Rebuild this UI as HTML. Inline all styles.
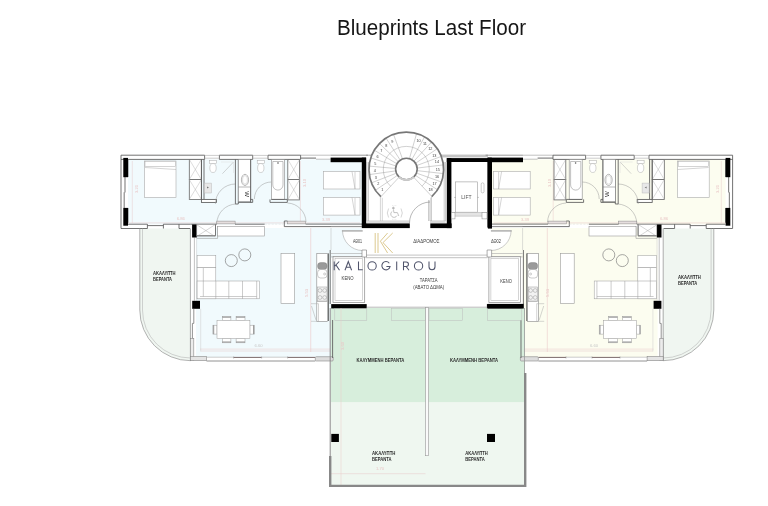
<!DOCTYPE html>
<html><head><meta charset="utf-8"><style>
html,body{margin:0;padding:0;background:#fff;width:768px;height:506px;overflow:hidden}
svg{position:absolute;left:0;top:0;display:block;filter:blur(0.3px)}
text{font-family:"Liberation Sans",sans-serif}
</style></head><body>
<svg width="768" height="506" viewBox="0 0 768 506">
<defs>
<g id="apt" fill="none" stroke="#5a5a5a" stroke-width="0.85">
  <!-- tinted areas drawn separately -->
  <!-- top outer wall -->
  <path d="M121 155.2H204.6M121 159.4H204.6M219.4 155.2H252.7M219.4 159.4H252.7M268 155.2H300.6M268 159.4H300.6"/>
  <path d="M300.6 155.2H330.6M316 159.2H330.6" stroke="#999" stroke-width="0.6"/>
  <path d="M300.6 158.1H316" stroke="#777" stroke-width="1.1"/>
  <path d="M204.6 155.2V159.4M219.4 155.2V159.4M252.7 155.2V159.4M268 155.2V159.4M300.6 155.2V159.4" />
  <path d="M204.6 155.4H219.4M252.7 155.4H268M204.6 158.2H219.4M252.7 158.2H268" stroke="#aaa" stroke-width="0.6"/>
  <!-- left outer wall -->
  <path d="M121 155.2V228.5M128 159.4V177M128 208V223"/>
  <path d="M125 177V192.6M124.2 192.2V208" stroke="#8a8a8a" stroke-width="1.2"/>
  <rect x="123.3" y="157.9" width="4.7" height="19.3" fill="#000" stroke="none"/>
  <rect x="123.3" y="207.9" width="4.7" height="17.8" fill="#000" stroke="none"/>
  <!-- bottom wall of bedroom band -->
  <path d="M121 228.5H147.4V224.2M147.4 225.6H163.4M163.4 224.2V228.5M128 224.2H147.4M163.4 224.2H190.5M179 224.2V228.5H190"/>
  <!-- dimension lines (pink) -->
  <path d="M132.3 161V223M128 222.9H360M300.4 161V224M200 349.1H330" stroke="#e8c8c8" stroke-width="0.5"/>
  <!-- bed 1 -->
  <rect x="144.4" y="161" width="31.6" height="36.4" fill="#fff" stroke="#aaa" stroke-width="0.6"/>
  <rect x="145" y="161.3" width="30.4" height="5" fill="#fff" stroke="#aaa" stroke-width="0.5"/>
  <path d="M145 167.5L176 169.5" stroke="#aaa" stroke-width="0.5"/>
  <!-- closets 1 -->
  <g stroke="#666" stroke-width="0.8">
    <rect x="189.3" y="159.4" width="12.1" height="20.2" fill="#fff"/>
    <rect x="189.3" y="179.6" width="12.1" height="19.8" fill="#fff"/>
    <path d="M189.3 159.4L201.4 179.6M201.4 159.4L189.3 179.6M189.3 179.6L201.4 199.4M201.4 179.6L189.3 199.4" stroke="#aaa" stroke-width="0.4"/>
  </g>
  <path d="M201.4 159.4V199.4M204 159.4V199.4"/>
  <rect x="201.4" y="199.4" width="15" height="3" fill="#fff"/>
  <!-- WC1 -->
  <ellipse cx="213" cy="168" rx="3.2" ry="4.5" fill="#fff" stroke="#aaa" stroke-width="0.5"/>
  <rect x="209.5" y="160.4" width="7" height="3.2" fill="#fff" stroke="#aaa" stroke-width="0.5"/>
  <rect x="204.5" y="183.1" width="7" height="9.9" fill="#e8e8e8" stroke="#bbb" stroke-width="0.5"/><path d="M207 186.5L209 187.5L207 188.5Z" fill="#777" stroke="none"/>
  <path d="M222.4 173.7L233.5 162" stroke="#aaa" stroke-width="0.5"/>
  <path d="M221 162H233.5V173" stroke="#ddd" stroke-width="0.5"/>
  <!-- door arc bath1 -->
  <path d="M235.4 184A20 20 0 0 0 215.4 204" stroke="#999" stroke-width="0.5"/>
  <!-- wall between bath1 and sink niche -->
  <path d="M235.4 159.4V204M238.3 159.4V204M235.4 204H238.3"/>
  <!-- sink niche -->
  <rect x="238.3" y="159.4" width="12.4" height="42" fill="#fff" stroke="#888" stroke-width="0.6"/>
  <ellipse cx="245" cy="179.9" rx="3.6" ry="5.6" fill="#fff" stroke="#888" stroke-width="0.6"/>
  <ellipse cx="245" cy="179.9" rx="2.4" ry="4.2" fill="none" stroke="#aaa" stroke-width="0.4"/>
  <path d="M238.3 187H250.7" stroke="#888" stroke-width="0.6"/>
  <text x="244.5" y="194.2" font-size="6" fill="#333" stroke="none" transform="rotate(90 244.5 194.2)" text-anchor="middle">W</text>
  <path d="M250.7 159.4V202.4M238.3 202.4H252.7M270 202.4H287.3M250.7 199.4H252.7V202.4M270 199.4V202.4"/>
  <!-- WC2 -->
  <ellipse cx="260.8" cy="168" rx="3.2" ry="4.5" fill="#fff" stroke="#aaa" stroke-width="0.5"/>
  <rect x="257.2" y="160.4" width="7.2" height="3.2" fill="#fff" stroke="#aaa" stroke-width="0.5"/>
  <path d="M271.4 182A17 17 0 0 0 254.4 199" stroke="#999" stroke-width="0.5"/>
  <!-- bath tub -->
  <rect x="271.4" y="159.6" width="13" height="39.8" fill="#fff" stroke="#888" stroke-width="0.6"/>
  <path d="M272.8 161.5H283V185A5 5 0 0 1 272.8 185Z" fill="#fff" stroke="#999" stroke-width="0.6"/>
  <circle cx="278" cy="163" r="0.8" fill="#555" stroke="none"/>
  <path d="M271.4 199.4H287.3V202.4"/>
  <!-- closets 2 -->
  <g stroke="#666" stroke-width="0.8">
    <rect x="287.8" y="159.4" width="11.8" height="20.2" fill="#fff"/>
    <rect x="287.8" y="179.6" width="11.8" height="20.3" fill="#fff"/>
    <path d="M287.8 159.4L299.6 179.6M299.6 159.4L287.8 179.6M287.8 179.6L299.6 199.9M299.6 179.6L287.8 199.9" stroke="#aaa" stroke-width="0.4"/>
  </g>
  <!-- door arc bedroom2 -->
  <path d="M287.5 203A19.5 19.5 0 0 1 306 222" stroke="#999" stroke-width="0.5"/>
  <rect x="287.3" y="221.1" width="18.3" height="2.8" fill="#e6dede" stroke="#888" stroke-width="0.5"/>
  <path d="M284.3 221V226.6H362M284.3 221H287.3M305.6 224.1H362"/>
  <!-- door arc bedroom1 (to corridor) -->
  <path d="M216.8 223.5A20 20 0 0 1 236 204" stroke="#999" stroke-width="0.5"/>
  <rect x="216.8" y="221.1" width="18.3" height="2.8" fill="#e6dede" stroke="#888" stroke-width="0.5"/>
  <path d="M190.5 224.2H216.8M235 224.2H264.7M196.8 226.6H214.9"/>
  <path d="M264.7 224.2H284.3" stroke="#ddd" stroke-width="0.5" stroke-dasharray="2 1.5"/>
  <!-- beds 2 -->
  <rect x="323.4" y="171.5" width="36.6" height="17.5" fill="#fff" stroke="#aaa" stroke-width="0.6"/>
  <rect x="323.4" y="197.4" width="36.6" height="17.7" fill="#fff" stroke="#aaa" stroke-width="0.6"/>
  <path d="M352 171.5L355 189M352 197.4L355 215M355 172V189M355 198V215" stroke="#aaa" stroke-width="0.5"/>
  <!-- black top-right wall -->
  <rect x="330.6" y="157.6" width="35.4" height="4.6" fill="#000" stroke="none"/>
  <rect x="361.8" y="157.6" width="4.4" height="70" fill="#000" stroke="none"/>
  <path d="M330.6 155.2H368" stroke="#888"/>
  <!-- veranda -->
  <path d="M139.8 228.5V310A50.7 50.7 0 0 0 190.5 360.7" stroke="#9a9a9a" stroke-width="0.75"/>
  <path d="M142.5 228.5V310A48 48 0 0 0 190.5 358" stroke="#aaa" stroke-width="0.5"/>
  <!-- living left wall -->
  <rect x="190.4" y="237.5" width="4" height="63" fill="#fff" stroke="none"/>
  <path d="M190.4 228.5V361" stroke="#999" stroke-width="0.8"/>
  <path d="M194.4 237.5V300.6" stroke="#999" stroke-width="0.6"/>
  <path d="M196.6 237.5V300.6M200.7 308.8V351.4" stroke="#ccc" stroke-width="0.5"/>
  <rect x="192.1" y="224.5" width="4.7" height="13" fill="#000" stroke="none"/>
  <rect x="192.2" y="300.8" width="7.8" height="8" fill="#000" stroke="none"/>
  <path d="M193.8 308.8V323.4H192.4V338.6" stroke="#777" stroke-width="0.8"/>
  <rect x="190.4" y="338.6" width="3.4" height="22.1" fill="#ececec" stroke="#888" stroke-width="0.6"/>
  <rect x="190.4" y="356.5" width="16.1" height="4.2" fill="#e4e4e4" stroke="#888" stroke-width="0.6"/>
  <!-- kitchen box X -->
  <rect x="196.8" y="224.5" width="18.7" height="11.6" fill="#fff" stroke="#888" stroke-width="0.5"/>
  <path d="M215.5 224.3V235.7H196.8" stroke="#777" stroke-width="1"/>
  <path d="M217.6 226V238.4H196.8" stroke="#999" stroke-width="0.6"/>
  <path d="M196.8 224.8L214.9 236.4M214.9 224.8L196.8 236.4" stroke="#999" stroke-width="0.4"/>
  <rect x="217.6" y="226.6" width="47" height="9.4" fill="#fff" stroke="#999" stroke-width="0.6"/>
  <!-- living bottom wall -->
  <path d="M206.5 361H315.3" stroke="#777" stroke-width="0.8"/>
  <path d="M206.5 357.2H233.6M261.6 357.2H287.6" stroke="#aaa" stroke-width="0.6"/>
  <path d="M233.6 357.4H261.6M287.6 357.4H315.3" stroke="#7a6a6a" stroke-width="1"/>
  <path d="M233.6 356.5V358.5M261.6 356.5V358.5M287.6 356.5V358.5" stroke="#888" stroke-width="0.5"/>
  <path d="M200.7 351H330" stroke="#e6d0d0" stroke-width="0.6"/>
  <rect x="315.3" y="356.7" width="17.9" height="4.3" rx="1" fill="#ddd" stroke="#888" stroke-width="0.6"/>
  <!-- sofa -->
  <g stroke="#999" stroke-width="0.5" fill="#fff">
    <rect x="197.1" y="255.6" width="18.7" height="12.1"/>
    <rect x="197.1" y="267.7" width="18.7" height="31.1"/>
    <rect x="197.1" y="281" width="62.3" height="17.8"/>
    <path d="M203.3 268V296.5M215.8 281V298.8M228.8 281V298.8M242.5 281V298.8M256.7 281V298.8M200 296.5H256.7" fill="none"/>
    <circle cx="231.3" cy="260.6" r="6" fill="none" stroke="#777" stroke-width="0.65"/>
    <circle cx="244.8" cy="254.9" r="6" fill="none" stroke="#777" stroke-width="0.65"/>
  </g>
  <!-- dining -->
  <g stroke="#999" stroke-width="0.5" fill="#fff">
    <rect x="222.3" y="316.4" width="8.6" height="3.9"/>
    <rect x="236.1" y="316.4" width="8.9" height="3.9"/>
    <rect x="222.3" y="338.6" width="8.6" height="4.2"/>
    <rect x="236.1" y="338.6" width="8.9" height="4.2"/>
    <rect x="212.9" y="325.2" width="4.1" height="8.9"/>
    <rect x="249.9" y="325.2" width="4.5" height="8.9"/>
    <rect x="217" y="320.3" width="32.9" height="18.3"/>
    <path d="M222.3 317.2H230.9M236.1 317.2H245M222.3 342H230.9M236.1 342H245M213.7 325.2V334.1M253.6 325.2V334.1" stroke="#888" stroke-width="0.9"/>
  </g>
  <path d="M330.2 250V304M332.6 320V358" />
  <!-- KENO room -->
  <rect x="333" y="256.5" width="31.7" height="46" fill="#fff" stroke="#888" stroke-width="0.7"/>
  <rect x="335" y="258.5" width="27.7" height="42" fill="none" stroke="#aaa" stroke-width="0.5"/>
  <rect x="331.2" y="304.1" width="35.5" height="4.3" fill="#000" stroke="none"/>
  <!-- entry door -->
  <path d="M342.5 230.5A20 20 0 0 0 362.5 250.5V230.5Z" fill="#fff" stroke="none"/>
  <path d="M342.5 230.5A20 20 0 0 0 362.5 250.5" stroke="#999" stroke-width="0.5"/>
  <rect x="341.9" y="230.2" width="20.8" height="1.4" fill="#aaa" stroke="none"/>
  <path d="M331 226.4H362M331 253.5H362M331 256.8H362" stroke="#aaa" stroke-width="0.6"/>
  <path d="M362 250V257H366.5V250Z" fill="#fff" stroke="#777" stroke-width="0.6"/>
  <path d="M331 228V250" stroke="#bbb" stroke-width="0.5"/>
</g>
<g id="kit" fill="none" stroke="#5a5a5a" stroke-width="0.85">
  <!-- kitchen column -->
  <rect x="316.8" y="253.4" width="10.9" height="67.9" fill="#fff" stroke="#888" stroke-width="0.6"/>
  <rect x="317.6" y="262.6" width="9.4" height="6.9" rx="3" fill="#9a9a9a" stroke="#777" stroke-width="0.4"/>
  <rect x="317.6" y="269.5" width="9.4" height="8.5" rx="3" fill="#fff" stroke="#999" stroke-width="0.5"/>
  <circle cx="324.6" cy="274" r="1" fill="none" stroke="#888" stroke-width="0.4"/>
  <rect x="317.6" y="287" width="9.4" height="14.2" fill="#f2f2f2" stroke="#999" stroke-width="0.5"/>
  <g fill="none" stroke="#999" stroke-width="0.5"><circle cx="320" cy="290.5" r="1.9"/><circle cx="324.6" cy="290.5" r="1.9"/><circle cx="320" cy="297.5" r="1.9"/><circle cx="324.6" cy="297.5" r="1.9"/></g>
  <path d="M316.8 301.2H327.7" stroke="#999" stroke-width="0.5"/>
  <path d="M311 303.7H318.5V321.3H311M311.5 306L316 320" stroke="#aaa" stroke-width="0.5"/>
  <path d="M328.5 253.4V321"/>
  <rect x="281" y="253.5" width="13.7" height="49.8" fill="#fff" stroke="#999" stroke-width="0.6"/>
</g>
</defs>

<!-- tints -->
<rect x="128" y="159.4" width="234" height="65" fill="#f1fafd"/>
<rect x="196" y="228" width="166" height="30" fill="#f1fafd"/>
<rect x="196" y="228" width="135" height="129" fill="#f1fafd"/>
<rect x="491.6" y="159.4" width="234" height="65" fill="#fcfdf0"/>
<rect x="491.6" y="228" width="166" height="30" fill="#fcfdf0"/>
<rect x="522.6" y="228" width="135" height="129" fill="#fcfdf0"/>
<path d="M139.8 228.5V310A50.7 50.7 0 0 0 190.5 360.7H191V228.5Z" fill="#f0f6f1"/>
<path d="M713.8 228.5V310A50.7 50.7 0 0 1 663.1 360.7H662.6V228.5Z" fill="#f0f6f1"/>
<rect x="331" y="308" width="194" height="94.5" fill="#d7eedc"/>
<rect x="331" y="402.5" width="194" height="82.5" fill="#eff7f0"/>

<use href="#apt"/>
<use href="#apt" transform="translate(853.6 0) scale(-1 1)"/>
<path d="M310.7 228V352M547.3 228V352" stroke="#edc9c9" stroke-width="0.6" fill="none"/>
<use href="#kit"/>
<use href="#kit" transform="translate(855.2 0) scale(-1 1)"/>


<!-- ===== central core ===== -->
<g id="core">
  <!-- outer building line over core -->
  <path d="M366 155.2H372M441 155.2H488M441 156.8H488" stroke="#888" stroke-width="0.7" fill="none"/>
  <!-- stair area white liners -->
  <path d="M366.8 162V221M368.4 162V221M366.8 221H409.5M366.8 222.2H409.5M444.2 162V221M445.6 162V221M430 221H445.6M430 222.2H445.6" stroke="#999" stroke-width="0.5" fill="none"/>
  <path d="M380.4 196.4V221M382.3 196.4V221" stroke="#aaa" stroke-width="0.5" fill="none"/>
  <path d="M428.9 200V221M431.1 196.4V221" stroke="#888" stroke-width="0.7" fill="none"/>
  <!-- stair -->
  <circle cx="406.3" cy="169.4" r="37.3" fill="#fff" stroke="none"/>
  <path d="M390.6 186.2A23 23 0 1 1 422.0 186.2" stroke="#999" stroke-width="0.45" fill="none"/>
  <path d="M398.5 177.8L380.9 196.7M396.8 175.8L375.4 190.3M395.6 173.5L371.5 182.8M394.9 171.0L369.4 174.6M394.8 168.4L369.1 166.1M395.4 165.8L370.8 157.9M396.4 163.5L374.3 150.2M398.0 161.4L379.5 143.5M400.0 159.8L386.0 138.1M402.4 158.6L393.5 134.3M409.5 158.3L416.6 133.5M411.9 159.4L424.6 136.9M414.1 161.0L431.6 142.0M415.9 163.0L437.3 148.7M417.1 165.4L441.3 156.4M417.7 168.0L443.3 164.9M417.7 170.7L443.4 173.6M417.1 173.3L441.4 182.0M415.9 175.7L437.5 189.8M414.2 177.8L431.9 196.5" stroke="#999" stroke-width="0.45" fill="none"/>
  <path d="M380.9 196.7A37.3 37.3 0 1 1 431.7 196.7" stroke="#777" stroke-width="1.7" fill="none"/>
  <circle cx="406.4" cy="169" r="10.8" fill="#fff" stroke="#777" stroke-width="1.6"/>
  <path d="M398.8 176.8A10.8 10.8 0 0 0 414 176.8" stroke="#ccc" stroke-width="1.8" fill="none"/>
  <g font-size="3.8" fill="#444" text-anchor="middle"><text x="382.3" y="191.3">1</text><text x="378.4" y="185.3">2</text><text x="375.8" y="178.7">3</text><text x="374.8" y="171.6">4</text><text x="375.4" y="164.5">5</text><text x="377.6" y="157.7">6</text><text x="381.3" y="151.6">7</text><text x="386.3" y="146.5">8</text><text x="392.2" y="142.6">9</text><text x="418.5" y="141.7">10</text><text x="424.9" y="145.3">11</text><text x="430.3" y="150.3">12</text><text x="434.3" y="156.5">13</text><text x="436.9" y="163.3">14</text><text x="437.8" y="170.6">15</text><text x="437.0" y="177.9">16</text><text x="434.5" y="184.9">17</text><text x="430.5" y="191.0">18</text></g>
  <!-- wheelchair -->
  <g stroke="#aaa" stroke-width="0.7" fill="none">
    <circle cx="393.4" cy="208.1" r="0.9" fill="#bbb"/>
    <path d="M393.5 209.6L393.9 212.6H397.4L398.8 216"/>
    <path d="M392.3 211.3A3.3 3.3 0 1 0 397 215.6"/>
    <path d="M388.6 208.5A9 9 0 0 0 388.6 217.5M401 208.5A9 9 0 0 1 401 217.5" stroke="#bbb" stroke-width="0.6"/>
    <path d="M392 205.6H397M392 219.4H397" stroke="#ddd" stroke-width="0.6" stroke-dasharray="1 0.6"/>
  </g>
  <!-- stair door -->
  <path d="M409.5 223A21 21 0 0 1 430 202" stroke="#888" stroke-width="0.6" fill="none"/>
  <!-- black walls of core -->
  <rect x="361.9" y="223.4" width="47.9" height="4.7" fill="#000"/>
  <rect x="430.3" y="223.4" width="21.3" height="4.7" fill="#000"/>
  <rect x="446.8" y="158.1" width="4.6" height="70" fill="#000"/>
  <rect x="446.8" y="158.1" width="45" height="3.9" fill="#000"/>
  <rect x="487.9" y="158.1" width="4.1" height="70.5" fill="#000"/>
  <!-- lift -->
  <rect x="455.5" y="181.9" width="21.8" height="30.3" fill="#fff" stroke="#999" stroke-width="0.6"/>
  <text x="466.4" y="199.2" font-size="5" fill="#555" text-anchor="middle">LIFT</text>
  <rect x="481.2" y="182.8" width="2.8" height="10.1" rx="1.4" fill="#fff" stroke="#999" stroke-width="0.5"/>
  <path d="M454 197.4H456M477.3 197.4H479" stroke="#999" stroke-width="0.5"/>
  <rect x="451.8" y="212.5" width="34.4" height="3.6" fill="#e4e4e4" stroke="#aaa" stroke-width="0.5"/>
  <rect x="451.4" y="212.4" width="3.6" height="6.5" fill="#fff" stroke="#888" stroke-width="0.5"/>
  <rect x="482" y="212.4" width="5" height="6.5" fill="#fff" stroke="#888" stroke-width="0.5"/>
  <!-- corridor bottom wall / terrace top -->
  <path d="M366 255.1H487.4M366 257.7H487.4" stroke="#999" stroke-width="0.6" fill="none"/>
  <!-- K logo -->
  <g stroke="#d6bf7c" stroke-width="0.85" fill="none">
    <path d="M375.2 233V253M378 233V253"/>
    <path d="M387.6 233L380.4 241.2L387.6 253M392.7 233L383 242.6L392.7 253"/>
  </g>
  <!-- KALOGIROU -->
  <g fill="none" stroke="#50546b" stroke-width="1.05">
    <path d="M334.2 261.5V270.2M339.2 261.5L334.7 266.1M335.9 264.9L339.5 270.2"/>
    <path d="M345 270.2L348.3 261.5L351.6 270.2M346.1 267.3H350.5"/>
    <path d="M358.5 261.5V269.7H362.7"/>
    <circle cx="372.1" cy="265.9" r="4.15"/>
    <path d="M389.3 263.2A4.15 4.15 0 1 0 390.1 266.4H386.4"/>
    <path d="M396.7 261.5V270.2"/>
    <path d="M403.5 270.2V262H406.2A2.25 2.25 0 0 1 406.2 266.5H403.5M406.1 266.5L409 270.2"/>
    <circle cx="418.55" cy="265.9" r="4.15"/>
    <path d="M429 261.5V266.7A3 3 0 0 0 435 266.7V261.5"/>
  </g>
  <!-- labels -->
  <g font-size="5.4" fill="#3a3a3a">
    <text x="352.9" y="242.6" textLength="9.1" lengthAdjust="spacingAndGlyphs">ΑΘ01</text>
    <text x="413.2" y="243.2" textLength="26.2" lengthAdjust="spacingAndGlyphs">ΔΙΑΔΡΟΜΟΣ</text>
    <text x="491" y="243.2" textLength="10" lengthAdjust="spacingAndGlyphs">ΔΘ02</text>
    <text x="341.6" y="280.2" textLength="12" lengthAdjust="spacingAndGlyphs">ΚΕΝΟ</text>
    <text x="500.3" y="282.6" textLength="11.5" lengthAdjust="spacingAndGlyphs">ΚΕΝΟ</text>
    <text x="419.8" y="282" textLength="17.8" lengthAdjust="spacingAndGlyphs">ΤΑΡΑΤΣΑ</text>
    <text x="413.2" y="289.2" textLength="31" lengthAdjust="spacingAndGlyphs">(ΑΒΑΤΟ ΔΩΜΑ)</text>
  </g>
</g>
<!-- ===== terrace ===== -->
<g id="terr">
  <g fill="none" stroke="#bbb" stroke-width="0.5">
    <rect x="334.8" y="308.6" width="32" height="12.1"/>
    <rect x="391.7" y="308.6" width="33.6" height="12.1"/>
    <rect x="429" y="308.6" width="33.5" height="12.1"/>
    <rect x="487.6" y="308.6" width="34.2" height="12.1"/>
  </g>
  <path d="M341 308V485M331 473.7H425.5" stroke="#e8c8c8" stroke-width="0.5" fill="none"/>
  <path d="M366.8 307.2H487.6" stroke="#888" stroke-width="0.6" fill="none"/>
  <rect x="487.6" y="303.9" width="36.2" height="4.6" fill="#000"/>
  <!-- divider -->
  <rect x="425.6" y="307.5" width="3" height="148.2" fill="#fafafa" stroke="#999" stroke-width="0.6"/>
  <!-- borders -->
  <path d="M330.2 308V456" stroke="#888" stroke-width="1" fill="none"/>
  <path d="M330.2 456V485.9H525.2V373" stroke="#888" stroke-width="2.4" fill="none"/>
  <path d="M524.5 308V373" stroke="#999" stroke-width="0.8" fill="none"/>
  <rect x="331.3" y="433.9" width="7.6" height="8.1" fill="#000"/>
  <rect x="487" y="433.9" width="8" height="8.1" fill="#000"/>
  <g font-size="4.8" fill="#2a2a2a" font-weight="bold">
    <text x="356.6" y="362.1" textLength="47.7" lengthAdjust="spacingAndGlyphs">ΚΑΛΥΜΜΕΝΗ ΒΕΡΑΝΤΑ</text>
    <text x="450" y="362.1" textLength="48" lengthAdjust="spacingAndGlyphs">ΚΑΛΥΜΜΕΝΗ ΒΕΡΑΝΤΑ</text>
    <text x="372" y="455.2" textLength="23.4" lengthAdjust="spacingAndGlyphs">ΑΚΑΛΥΠΤΗ</text>
    <text x="372" y="461.2" textLength="19.5" lengthAdjust="spacingAndGlyphs">ΒΕΡΑΝΤΑ</text>
    <text x="465.2" y="455.2" textLength="22.6" lengthAdjust="spacingAndGlyphs">ΑΚΑΛΥΠΤΗ</text>
    <text x="465.2" y="461.2" textLength="19.5" lengthAdjust="spacingAndGlyphs">ΒΕΡΑΝΤΑ</text>
    <text x="153.1" y="274.8" textLength="22.5" lengthAdjust="spacingAndGlyphs">ΑΚΑΛΥΠΤΗ</text>
    <text x="153.1" y="280.9" textLength="18.9" lengthAdjust="spacingAndGlyphs">ΒΕΡΑΝΤΑ</text>
    <text x="678" y="279.4" textLength="22.9" lengthAdjust="spacingAndGlyphs">ΑΚΑΛΥΠΤΗ</text>
    <text x="678" y="285" textLength="19.2" lengthAdjust="spacingAndGlyphs">ΒΕΡΑΝΤΑ</text>
  </g>
</g>


<!-- faint dimension labels -->
<g font-size="4.2" fill="#e9c6c6">
  <text x="176.7" y="220">6.86</text>
  <text x="322" y="220.5">3.39</text>
  <text x="660" y="220">6.86</text>
  <text x="521" y="220.5">3.39</text>
  <text x="376" y="470">1.70</text>
  <text x="254.5" y="347.2" fill="#c8c8c8">6.60</text>
  <text x="590" y="347.2" fill="#c8c8c8">6.60</text>
  <text transform="translate(137.5 193) rotate(-90)">3.21</text>
  <text transform="translate(306 187) rotate(-90)">3.10</text>
  <text transform="translate(551 187) rotate(-90)">3.10</text>
  <text transform="translate(307.5 297) rotate(-90)">5.53</text>
  <text transform="translate(548.5 297) rotate(-90)">5.53</text>
  <text transform="translate(344 350) rotate(-90)">3.60</text>
  <text transform="translate(719 193) rotate(-90)">3.21</text>
</g>

<!-- title -->
<text x="337" y="34.7" font-size="21.6" fill="#161616" textLength="189" lengthAdjust="spacingAndGlyphs">Blueprints Last Floor</text>

</svg>
</body></html>
